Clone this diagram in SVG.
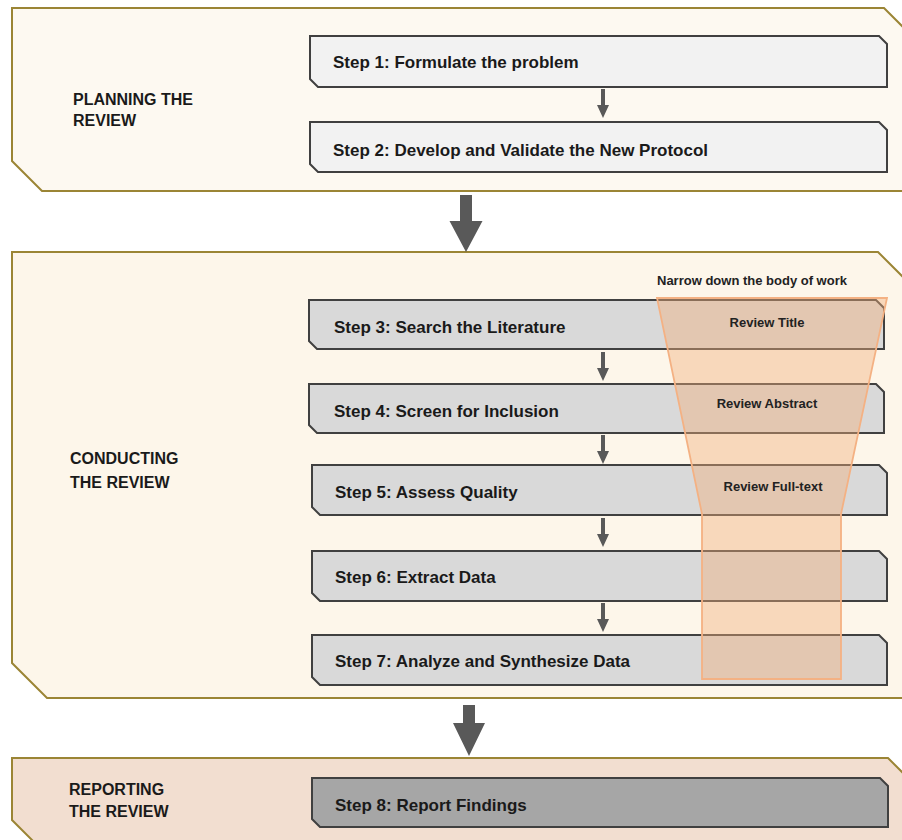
<svg xmlns="http://www.w3.org/2000/svg" width="902" height="840" viewBox="0 0 902 840">
<style>
.panel{stroke:#9B8535;stroke-width:2}
.step{stroke:#404040;stroke-width:2}
.lbl{font-family:"Liberation Sans",Arial,sans-serif;font-weight:bold;font-size:16px;fill:#1a1a1a}
.st{font-family:"Liberation Sans",Arial,sans-serif;font-weight:bold;font-size:17px;fill:#1a1a1a}
.sm{font-family:"Liberation Sans",Arial,sans-serif;font-weight:bold;font-size:13px;fill:#222}
.arr{fill:#595959}
</style>
<rect width="902" height="840" fill="#ffffff"/>
<g id="panel-planning">
<path class="panel" fill="#FDF9F1" d="M12,8 L884,8 L908,32 L908,191 L42,191 L12,161 Z"/>
<text class="lbl" x="73" y="105">PLANNING THE</text>
<text class="lbl" x="73" y="126">REVIEW</text>
</g>
<g id="panel-conducting">
<path class="panel" fill="#FDF6EA" d="M12,252 L878,252 L906,280 L906,698 L47,698 L12,663 Z"/>
<text class="lbl" x="70" y="464">CONDUCTING</text>
<text class="lbl" x="70" y="488">THE REVIEW</text>
</g>
<g id="panel-reporting">
<path class="panel" fill="#F2DED0" d="M12,758 L888,758 L908,778 L908,880 L72,880 L12,820 Z"/>
<text class="lbl" x="69" y="795">REPORTING</text>
<text class="lbl" x="69" y="817">THE REVIEW</text>
</g>
<g id="step1">
<path class="step" fill="#F2F2F2" d="M310,36 L879,36 L887,44 L887,87 L318,87 L310,79 Z"/>
<text class="st" x="333" y="68">Step 1: Formulate the problem</text>
</g>
<g id="step2">
<path class="step" fill="#F2F2F2" d="M310,122 L879,122 L887,130 L887,172 L318,172 L310,164 Z"/>
<text class="st" x="333" y="156">Step 2: Develop and Validate the New Protocol</text>
</g>
<g id="step3">
<path class="step" fill="#D9D9D9" d="M309,300 L876,300 L884,308 L884,349 L317,349 L309,341 Z"/>
<text class="st" x="334" y="333">Step 3: Search the Literature</text>
</g>
<g id="step4">
<path class="step" fill="#D9D9D9" d="M309,384 L876,384 L884,392 L884,433 L317,433 L309,425 Z"/>
<text class="st" x="334" y="417">Step 4: Screen for Inclusion</text>
</g>
<g id="step5">
<path class="step" fill="#D9D9D9" d="M312,465 L879,465 L887,473 L887,515 L320,515 L312,507 Z"/>
<text class="st" x="335" y="498">Step 5: Assess Quality</text>
</g>
<g id="step6">
<path class="step" fill="#D9D9D9" d="M312,551 L879,551 L887,559 L887,601 L320,601 L312,593 Z"/>
<text class="st" x="335" y="583">Step 6: Extract Data</text>
</g>
<g id="step7">
<path class="step" fill="#D9D9D9" d="M312,635 L879,635 L887,643 L887,685 L320,685 L312,677 Z"/>
<text class="st" x="335" y="667">Step 7: Analyze and Synthesize Data</text>
</g>
<g id="step8">
<path class="step" fill="#A6A6A6" d="M312,778 L880,778 L888,786 L888,827 L320,827 L312,819 Z"/>
<text class="st" x="335" y="811">Step 8: Report Findings</text>
</g>
<g id="funnel">
<path d="M657,298 L887,298 L841,514 L841,679 L702,679 L702,514 Z" fill="#F1AE79" fill-opacity="0.42" stroke="#F4B183" stroke-width="1.8"/>
<text class="sm" x="657" y="285">Narrow down the body of work</text>
<text class="sm" x="767" y="327" text-anchor="middle">Review Title</text>
<text class="sm" x="767" y="408" text-anchor="middle">Review Abstract</text>
<text class="sm" x="773" y="491" text-anchor="middle">Review Full-text</text>
</g>
<g id="connectors">
<path class="arr" d="M601,89 L605,89 L605,105 L609,105 L603,118 L597,105 L601,105 Z"/>
<path class="arr" d="M601,352 L605,352 L605,368 L609,368 L603,381 L597,368 L601,368 Z"/>
<path class="arr" d="M601,435 L605,435 L605,451 L609,451 L603,464 L597,451 L601,451 Z"/>
<path class="arr" d="M601,518 L605,518 L605,534 L609,534 L603,547 L597,534 L601,534 Z"/>
<path class="arr" d="M601,603 L605,603 L605,619 L609,619 L603,632 L597,619 L601,619 Z"/>
<path class="arr" d="M460,195 L472,195 L472,221 L482.5,221 L466,252 L449.5,221 L460,221 Z"/>
<path class="arr" d="M463,705 L475,705 L475,723 L485,723 L469,756 L453,723 L463,723 Z"/>
</g>
</svg>
